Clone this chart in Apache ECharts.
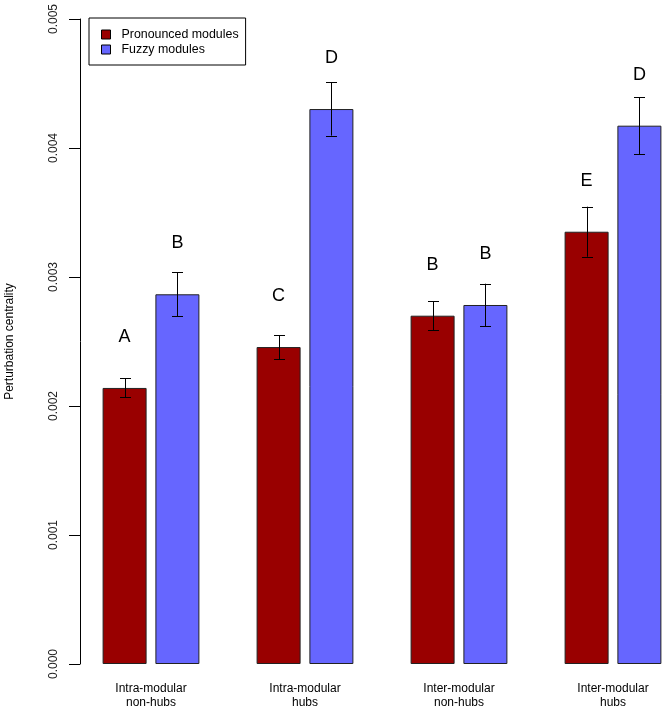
<!DOCTYPE html>
<html>
<head>
<meta charset="utf-8">
<script src="https://cdn.jsdelivr.net/npm/echarts@6/dist/echarts.min.js"></script>
<style>
html,body{margin:0;padding:0;background:#fff;}
#chart{width:664px;height:710px;}
</style>
</head>
<body>
<div id="chart"></div>
<script>
var categories = ['Intra-modular\nnon-hubs', 'Intra-modular\nhubs', 'Inter-modular\nnon-hubs', 'Inter-modular\nhubs'];
var pronounced = [0.00214, 0.002457, 0.00270, 0.003351];
var pronouncedSE = [0.000074, 0.000093, 0.000111, 0.000194];
var fuzzy = [0.002866, 0.004302, 0.002783, 0.004173];
var fuzzySE = [0.000169, 0.000206, 0.000165, 0.000221];
var pronouncedLetters = ['A', 'C', 'B', 'E'];
var fuzzyLetters = ['B', 'D', 'B', 'D'];
var yTicks = [0, 0.001, 0.002, 0.003, 0.004, 0.005];

var FONT = 'Liberation Sans, Arial, sans-serif';
var BAR_W = 44;
var GAP = 0.2;

function errSeries(means, se, side) {
  var data = means.map(function (m, i) { return [i, m - se[i], m + se[i]]; });
  return {
    type: 'custom',
    silent: true,
    z: 10,
    data: data,
    encode: { x: 0, y: [1, 2] },
    renderItem: function (params, api) {
      var i = api.value(0);
      var lo = api.coord([i, api.value(1)]);
      var hi = api.coord([i, api.value(2)]);
      var off = side * (BAR_W / 2 + BAR_W * GAP / 2);
      var x = Math.round(lo[0] + off) + 0.5;
      var cap = 5.5;
      var st = { stroke: '#000', lineWidth: 1 };
      return {
        type: 'group',
        children: [
          { type: 'line', shape: { x1: x, y1: lo[1], x2: x, y2: hi[1] }, style: st },
          { type: 'line', shape: { x1: x - cap, y1: Math.round(lo[1]) + 0.5, x2: x + cap, y2: Math.round(lo[1]) + 0.5 }, style: st },
          { type: 'line', shape: { x1: x - cap, y1: Math.round(hi[1]) + 0.5, x2: x + cap, y2: Math.round(hi[1]) + 0.5 }, style: st }
        ]
      };
    }
  };
}

function barSeries(name, values, letters, color) {
  return {
    name: name,
    type: 'bar',
    data: values,
    barWidth: BAR_W,
    barGap: (GAP * 100) + '%',
    itemStyle: { color: color, borderColor: '#222', borderWidth: 1 },
    label: {
      show: true,
      position: 'top',
      distance: 42,
      fontSize: 18,
      fontFamily: FONT,
      color: '#000',
      formatter: function (p) { return letters[p.dataIndex]; }
    }
  };
}

var chart = echarts.init(document.getElementById('chart'));
chart.setOption({
  animation: false,
  backgroundColor: '#fff',
  grid: { left: 74, width: 616, top: 19, bottom: 46, containLabel: false, outerBoundsMode: 'none' },
  legend: {
    left: 89, top: 18,
    orient: 'vertical',
    data: ['Pronounced modules', 'Fuzzy modules'],
    borderColor: '#000', borderWidth: 1,
    padding: [10, 7, 9, 12],
    itemWidth: 9, itemHeight: 9, itemGap: 2,
    icon: 'rect',
    itemStyle: { borderColor: '#000', borderWidth: 1 },
    textStyle: { fontFamily: FONT, fontSize: 12.4, color: '#000', padding: [0, 0, 0, 6], lineHeight: 13 }
  },
  xAxis: {
    type: 'category',
    data: categories,
    axisLine: { show: false },
    axisTick: { show: false },
    axisLabel: { fontFamily: FONT, fontSize: 12, color: '#000', margin: 18, lineHeight: 14 }
  },
  yAxis: {
    type: 'value',
    min: 0, max: 0.005, interval: 0.001,
    offset: -6,
    name: 'Perturbation centrality',
    nameLocation: 'middle',
    nameGap: 64,
    nameTextStyle: { fontFamily: FONT, fontSize: 12, color: '#000' },
    splitLine: { show: false },
    axisLine: { show: true, lineStyle: { color: '#000', width: 1 } },
    axisTick: { show: true, length: 11, lineStyle: { color: '#000' } },
    axisLabel: {
      rotate: 90, margin: 20, fontFamily: FONT, fontSize: 12, color: '#222',
      formatter: function (v) {
        for (var k = 0; k < yTicks.length; k++) if (Math.abs(yTicks[k] - v) < 1e-9) return yTicks[k].toFixed(3);
        return '';
      }
    }
  },
  series: [
    barSeries('Pronounced modules', pronounced, pronouncedLetters, '#990000'),
    barSeries('Fuzzy modules', fuzzy, fuzzyLetters, '#6666FF'),
    errSeries(pronounced, pronouncedSE, -1),
    errSeries(fuzzy, fuzzySE, 1)
  ]
});
</script>
</body>
</html>
